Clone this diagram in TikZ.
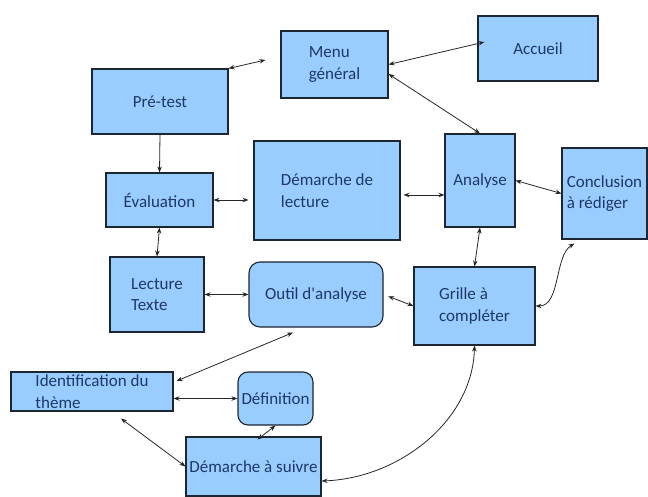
\documentclass[tikz,border=0pt]{standalone}
\usepackage{fontspec}
\setmainfont{Carlito}
\usepackage{xcolor}
\usepackage{tikz}
\usetikzlibrary{arrows.meta, calc}
\definecolor{BoxFill}{HTML}{99CCFF}
\definecolor{BoxLine}{HTML}{1B2631}
\definecolor{BoxText}{HTML}{1F3864}

\begin{document}
\begin{tikzpicture}[x=1pt, y=-1pt,
  flowbox/.style={draw=BoxLine, fill=BoxFill, text=BoxText, line width=1.1pt, align=left, inner sep=2pt, font=\fontsize{17}{21.5}\selectfont},
  roundbox/.style={flowbox, rounded corners=11pt},
  link/.style={draw=black!85, line width=0.8pt, <->},
  >={Stealth[length=6pt, width=4.5pt]},
  ]
  \useasboundingbox (0,0) rectangle (648,497);
  % top row
  \node[flowbox, minimum width=107pt, minimum height=67pt] (menu) at (334.5, 64.5) {Menu\\général};
  \node[flowbox, minimum width=120pt, minimum height=65pt] (accueil) at (538, 48.5) {Accueil};
  \node[flowbox, minimum width=136pt, minimum height=65pt] (pretest) at (160, 101.5) {Pré-test};
  % middle
  \node[flowbox, minimum width=107pt, minimum height=54pt] (eval) at (159.5, 200) {Évaluation};
  \node[flowbox, minimum width=146pt, minimum height=99pt] (demlect) at (327, 190.5) {Démarche de\\lecture};
  \node[flowbox, minimum width=70pt, minimum height=93pt] (analyse) at (480, 180.5) {Analyse};
  \node[flowbox, minimum width=85pt, minimum height=91pt] (concl) at (604.5, 193.5) {Conclusion\\à rédiger};
  \node[flowbox, minimum width=94pt, minimum height=75pt] (lecture) at (157, 294.5) {Lecture\\Texte};
  \node[roundbox, minimum width=134pt, minimum height=65pt] (outil) at (316, 294.5) {Outil d\textquotesingle analyse};
  \node[flowbox, minimum width=121pt, minimum height=78pt] (grille) at (474.5, 306) {Grille à\\compléter};
  % bottom
  \node[flowbox, minimum width=162pt, minimum height=39pt] (ident) at (92, 391.5) {Identification du\\thème};
  \node[roundbox, rounded corners=10pt, minimum width=75pt, minimum height=53pt] (defin) at (275.5, 398.5) {Définition};
  \node[flowbox, minimum width=135pt, minimum height=59pt] (demsuiv) at (253.5, 466.5) {Démarche à suivre};

  \draw[link] (pretest.north east) -- ([xshift=-15pt, yshift=4.5pt]menu.west);
  \draw[link] (menu.east) -- ([xshift=7pt, yshift=6.5pt]accueil.west);
  \draw[link] ([yshift=-9.5pt]menu.east) -- (analyse.north);
  \draw[link, ->] (pretest.south) -- (eval.north);
  \draw[link, shorten >=5pt] (eval.east) -- (eval.east -| demlect.west);
  \draw[link, shorten <=3pt] ([yshift=-4.5pt]demlect.east) -- ([yshift=-14.5pt]analyse.west);
  \draw[link] (analyse.east) -- (concl.west);
  \draw[link] (eval.south) -- (lecture.north);
  \draw[link] (analyse.south) -- (grille.north);
  \draw[link] ([xshift=13pt, yshift=-4pt]concl.south west) .. controls +(-20,12) and +(25,0) .. (grille.east);
  \draw[link] (lecture.east) -- (outil.west);
  \draw[link, shorten <=5pt] (outil.east) -- (grille.west);
  \draw[link] ([xshift=-23pt, yshift=-5pt]outil.south) -- ([xshift=3pt, yshift=10.5pt]ident.east);
  \draw[link] (defin.west -| ident.east) -- (defin.west);
  \draw[link] ([xshift=4pt, yshift=-3pt]demsuiv.north) -- (defin.south);
  \draw[link] ([xshift=29pt, yshift=-7pt]ident.south) -- (demsuiv.west);
  \draw[link] (grille.south) .. controls +(-2,75) and +(78,-3) .. ([yshift=-14.5pt]demsuiv.east);
\end{tikzpicture}
\end{document}
